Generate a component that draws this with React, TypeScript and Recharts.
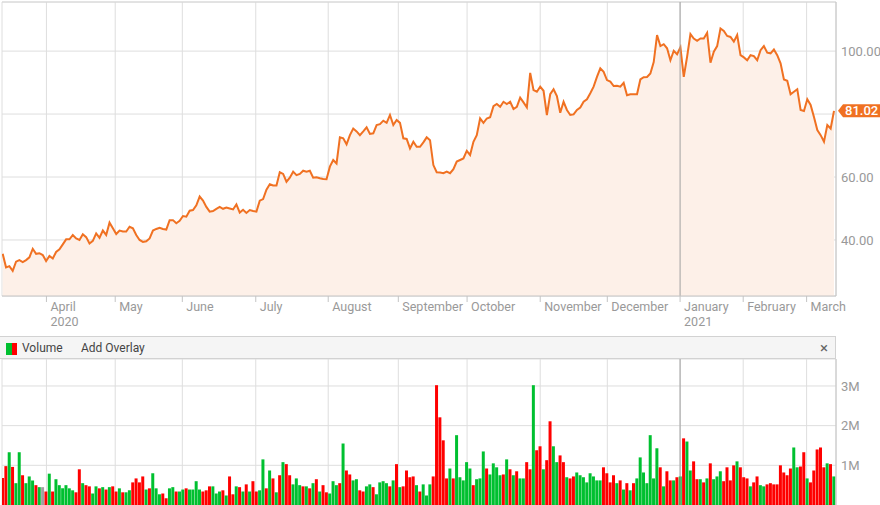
import React from "react";
import { AreaChart, Area, BarChart, Bar, Cell, XAxis, YAxis, CartesianGrid, ReferenceLine } from "recharts";

// daily closing prices, mid-March 2020 .. early March 2021
const prices = [
  35.6, 31.3, 31.7, 30.2, 33.1, 33.6, 33.0, 33.6, 34.5, 37.2,
  35.6, 35.8, 35.2, 33.3, 34.9, 34.1, 36.2, 37.0, 38.6, 40.2,
  40.2, 41.6, 40.5, 40.0, 41.8, 40.9, 38.9, 39.7, 42.1, 40.7,
  43.0, 41.6, 45.5, 43.7, 41.9, 43.0, 42.7, 42.7, 44.2, 43.7,
  41.6, 40.0, 39.4, 39.6, 40.5, 43.0, 43.5, 43.9, 43.5, 43.3,
  46.3, 46.3, 45.3, 46.1, 47.6, 47.4, 49.3, 49.5, 51.0, 53.8,
  52.5, 50.5, 49.0, 49.2, 49.9, 50.5, 49.9, 50.3, 50.0, 49.7,
  51.3, 48.7, 49.6, 48.6, 49.5, 49.2, 49.0, 52.5, 53.0, 56.0,
  57.7, 57.3, 57.3, 61.5, 61.0, 58.5, 59.8, 61.7, 60.6, 61.0,
  62.0, 61.7, 62.0, 59.8, 59.9, 59.6, 59.4, 59.3, 63.3, 65.4,
  64.3, 72.6, 72.3, 70.4, 73.3, 75.4, 74.5, 73.3, 74.5, 75.8,
  73.7, 73.9, 76.5, 76.8, 77.9, 77.2, 79.7, 76.5, 78.1, 77.2,
  72.3, 72.1, 69.1, 71.2, 69.6, 69.6, 71.0, 72.6, 71.7, 63.8,
  61.5, 61.4, 61.2, 61.7, 61.2, 62.5, 64.9, 65.4, 65.9, 68.3,
  67.0, 71.2, 73.3, 78.6, 77.2, 78.6, 79.0, 82.5, 83.2, 82.3,
  83.9, 83.2, 83.9, 81.6, 82.3, 85.2, 83.7, 82.1, 93.1, 87.6,
  87.1, 88.7, 87.4, 79.7, 86.3, 87.9, 85.7, 80.4, 83.9, 81.3,
  79.7, 79.9, 81.3, 82.1, 83.9, 84.7, 86.6, 88.7, 91.8, 94.5,
  93.4, 90.8, 90.3, 88.9, 89.0, 88.7, 89.9, 86.0, 86.3, 86.3,
  86.3, 91.0, 91.7, 91.8, 92.9, 96.5, 105.1, 101.6, 102.2, 100.9,
  97.1, 100.1, 99.0, 101.2, 91.8, 98.2, 105.4, 104.0, 103.3, 104.0,
  104.0, 105.8, 96.3, 99.8, 101.6, 107.2, 106.4, 104.8, 104.5, 103.0,
  105.1, 98.7, 98.0, 97.1, 98.7, 98.4, 97.1, 100.3, 101.6, 99.5,
  99.3, 100.5, 98.7, 96.1, 91.0, 90.6, 86.3, 87.1, 87.9, 81.3,
  81.0, 84.7, 82.9, 79.1, 74.9, 73.3, 71.2, 76.5, 75.4, 81.02,
];

// daily volume, millions of shares
const volumes = [
  0.68, 0.98, 1.33, 0.96, 0.55, 1.33, 0.75, 0.55, 0.72, 0.62,
  0.50, 0.45, 0.45, 0.34, 0.79, 0.34, 0.65, 0.50, 0.42, 0.50,
  0.42, 0.37, 0.32, 0.90, 0.55, 0.50, 0.47, 0.29, 0.47, 0.42,
  0.45, 0.39, 0.45, 0.47, 0.34, 0.42, 0.32, 0.32, 0.37, 0.57,
  0.67, 0.57, 0.72, 0.39, 0.42, 0.80, 0.42, 0.27, 0.29, 0.17,
  0.42, 0.45, 0.34, 0.34, 0.39, 0.42, 0.39, 0.39, 0.60, 0.39,
  0.34, 0.37, 0.47, 0.47, 0.29, 0.34, 0.37, 0.24, 0.72, 0.27,
  0.47, 0.45, 0.34, 0.52, 0.34, 0.60, 0.34, 0.37, 1.15, 0.42,
  0.87, 0.67, 0.32, 0.75, 1.08, 1.03, 0.75, 0.52, 0.67, 0.50,
  0.47, 0.47, 0.42, 0.55, 0.65, 0.34, 0.50, 0.32, 0.29, 0.60,
  0.50, 0.55, 1.55, 0.87, 0.77, 0.62, 0.65, 0.37, 0.34, 0.47,
  0.52, 0.45, 0.27, 0.57, 0.60, 0.55, 0.47, 0.62, 1.03, 0.45,
  0.47, 0.87, 0.70, 0.72, 0.50, 0.34, 0.52, 0.24, 0.52, 0.72,
  3.02, 2.21, 1.63, 0.67, 0.92, 0.67, 1.76, 0.70, 0.62, 1.08,
  0.92, 0.50, 0.65, 0.67, 1.35, 0.92, 0.77, 1.05, 0.95, 0.75,
  0.77, 1.15, 0.90, 0.75, 0.85, 0.67, 0.67, 1.08, 0.90, 3.02,
  1.38, 1.48, 0.90, 1.13, 2.11, 1.48, 1.08, 1.25, 1.08, 0.70,
  0.67, 0.72, 0.82,
  0.75, 0.70, 0.57, 0.80, 0.72, 0.62, 0.62, 0.95, 0.80, 0.57,
  0.75, 0.55, 0.62, 0.39, 0.55, 0.37, 0.55, 0.67, 1.20, 0.82,
  0.55, 1.76, 0.67, 1.43, 0.95, 0.47, 0.85, 0.62, 0.62, 0.70,
  0.72, 1.68, 1.60, 0.87, 1.10, 0.65, 0.65, 0.57, 0.67, 1.05,
  0.65, 0.72, 0.85, 0.60, 0.95, 0.62, 1.00, 1.10, 0.95, 0.70,
  0.67, 0.47, 0.57, 0.72, 0.50, 0.47, 0.52, 0.55, 0.52, 0.52,
  1.00, 0.82, 0.75, 0.92, 1.45, 0.95, 0.97, 1.33, 0.67, 0.57,
  0.87, 1.40, 1.45, 0.95, 1.05, 1.03, 0.72,
];

// 1 = up day (green), -1 = down day (red), 0 = unchanged (grey)
const directions = [
  -1, -1, 1, -1, 1, 1, -1, 1, 1, 1,
  -1, 1, 0, -1, 1, -1, 1, 1, 1, 1,
  1, 1, -1, -1, 1, -1, -1, 1, 1, -1,
  1, -1, 1, -1, -1, 1, -1, 1, 1, -1,
  -1, -1, -1, 1, -1, 1, 1, 1, -1, -1,
  1, 1, -1, 1, 1, -1, 1, 1, 1, 1,
  -1, -1, -1, 1, 1, 1, -1, 1, -1, -1,
  1, -1, 1, -1, 1, -1, -1, 1, 1, -1,
  1, -1, 1, -1, 1, -1, -1, 1, 1, 1,
  -1, 1, -1, 1, -1, 1, -1, -1, 1, 1,
  1, -1, 1, -1, -1, 1, 1, -1, -1, 1,
  1, -1, 1, 1, 1, 1, -1, 1, -1, 1,
  -1, -1, -1, -1, 1, -1, 1, 1, 1, -1,
  -1, -1, -1, -1, 1, -1, 1, 1, 1, 1,
  1, -1, 1, 1, 1, -1, 1, 1, 1, 1,
  -1, 1, -1, 1, -1, 1, 1, -1, -1, 1,
  -1, -1, 1, -1, -1, 1, 1, -1, -1, 1,
  -1, -1, 1,
  1, 1, 1, 1, 1, 1, 1, -1, -1, -1,
  -1, 1, -1, 1, -1, 1, -1, 1, 1, 1,
  1, 1, 1, 1, -1, 1, -1, -1, 1, -1,
  1, -1, 1, 1, -1, -1, 1, -1, 1, -1,
  1, 1, 1, -1, -1, -1, -1, 1, -1, -1,
  -1, 1, -1, -1, 1, 1, -1, -1, -1, -1,
  -1, -1, -1, -1, 1, 1, -1, -1, 1, -1,
  -1, -1, -1, -1, 1, -1, 1,
];

// month boundaries, as positions on the trading-day axis
const monthTicks = [13.1, 33.7, 53.8, 75.8, 97.5, 118.5, 139.1, 161, 181.1, 202.9, 221.8, 240.8];
const monthLabels = ["April", "May", "June", "July", "August", "September", "October", "November", "December", "January", "February", "March"];
const yearLabels = ["2020", "", "", "", "", "", "", "", "", "2021", "", ""];
const yearBoundary = 202.9;

const priceTicks = [40, 60, 80, 100];
const volumeTicks = [1, 2, 3];
const lastPrice = 81.02;

const X_DOMAIN: [number, number] = [-0.21, 249.6];
const FONT = "Roboto, sans-serif";
const ORANGE = "#f07122";

const priceData = prices.map((price, i) => ({ i, price }));
const volumeData = volumes.map((volume, i) => ({ i, volume, dir: directions[i] }));

function MonthTick(props: any) {
  const { x, y, payload } = props;
  const idx = monthTicks.indexOf(payload.value);
  return (
    <g>
      <text x={x + 4} y={y + 9} fill="#999" fontSize={12.5} fontFamily={FONT}>
        {monthLabels[idx]}
      </text>
      {yearLabels[idx] ? (
        <text x={x + 4} y={y + 24} fill="#999" fontSize={12.5} fontFamily={FONT}>
          {yearLabels[idx]}
        </text>
      ) : null}
    </g>
  );
}

function PriceTag(props: any) {
  const vb = props.viewBox || {};
  const right = vb.x + vb.width;
  const cy = vb.y;
  return (
    <g>
      <polygon
        points={`${right + 2},${cy} ${right + 7},${cy - 6.5} 880,${cy - 6.5} 880,${cy + 6.5} ${right + 7},${cy + 6.5}`}
        fill={ORANGE}
      />
      <text x={right + 9} y={cy + 4.5} fill="#fff" fontSize={13} fontWeight={500} fontFamily={FONT}>
        {lastPrice.toFixed(2)}
      </text>
    </g>
  );
}

const barColor = (dir: number) => (dir > 0 ? "#00c030" : dir < 0 ? "#ff0000" : "#a0a0a0");

export default function App() {
  return (
    <div style={{ position: "fixed", left: 0, top: 0, width: 880, height: 505, background: "#fff", overflow: "hidden", fontFamily: FONT }}>
      <AreaChart width={880} height={336} data={priceData} margin={{ top: 2, right: 0, bottom: 0, left: 2 }}>
        <CartesianGrid stroke="#dedede" />
        <XAxis
          dataKey="i"
          type="number"
          domain={X_DOMAIN}
          ticks={monthTicks}
          interval={0}
          allowDataOverflow
          height={40}
          tickSize={6}
          tickMargin={0}
          tickLine={{ stroke: "#c4c4c4" }}
          axisLine={{ stroke: "#c4c4c4" }}
          tick={<MonthTick />}
        />
        <YAxis
          orientation="right"
          domain={[22.2, 115.6]}
          ticks={priceTicks}
          allowDataOverflow
          width={44}
          tickLine={false}
          tickSize={0}
          tickMargin={5}
          axisLine={{ stroke: "#c4c4c4" }}
          tick={{ fill: "#999", fontSize: 13, fontFamily: FONT, textAnchor: "start" }}
          tickFormatter={(v: number) => (v === 80 ? "" : v.toFixed(2))}
        />
        <ReferenceLine y={115.6} stroke="#d6d6d6" />
        <ReferenceLine x={yearBoundary} stroke="#a0a0a0" />
        <Area
          type="linear"
          dataKey="price"
          stroke={ORANGE}
          strokeWidth={2}
          fill="#fdf0e8"
          fillOpacity={1}
          dot={false}
          activeDot={false}
          isAnimationActive={false}
        />
        <ReferenceLine y={lastPrice} stroke="none" label={<PriceTag />} />
      </AreaChart>

      <div
        style={{
          position: "absolute",
          left: 0,
          top: 336,
          width: 836,
          height: 23,
          boxSizing: "border-box",
          background: "#f5f5f5",
          borderTop: "1px solid #d2d2d2",
          borderBottom: "1px solid #d2d2d2",
          borderRight: "1px solid #d2d2d2",
          fontSize: 12,
          color: "#444",
        }}
      >
        <span style={{ position: "absolute", left: 6, top: 6, width: 6, height: 12, background: "#00c030" }} />
        <span style={{ position: "absolute", left: 12, top: 6, width: 5, height: 12, background: "#ff0000" }} />
        <span style={{ position: "absolute", left: 22, top: 4 }}>Volume</span>
        <span style={{ position: "absolute", left: 81, top: 4 }}>Add Overlay</span>
        <span style={{ position: "absolute", left: 820, top: 2, fontSize: 15, color: "#666" }}>×</span>
      </div>

      <div style={{ position: "absolute", left: 0, top: 359 }}>
        <BarChart width={880} height={146} data={volumeData} margin={{ top: 0, right: 0, bottom: 0, left: 2 }}>
          <CartesianGrid stroke="#dedede" />
          <XAxis dataKey="i" type="number" domain={X_DOMAIN} ticks={monthTicks} interval={0} allowDataOverflow hide height={0} />
          <YAxis
            orientation="right"
            domain={[0, 3.68]}
            ticks={volumeTicks}
            allowDataOverflow
            width={44}
            tickLine={false}
            tickSize={0}
            tickMargin={5}
            axisLine={{ stroke: "#c4c4c4" }}
            tick={{ fill: "#999", fontSize: 13, fontFamily: FONT, textAnchor: "start" }}
            tickFormatter={(v: number) => `${v}M`}
          />
          <ReferenceLine x={yearBoundary} stroke="#a0a0a0" />
          <Bar dataKey="volume" barSize={3} isAnimationActive={false}>
            {volumeData.map((d) => (
              <Cell key={d.i} fill={barColor(d.dir)} />
            ))}
          </Bar>
        </BarChart>
      </div>
    </div>
  );
}
